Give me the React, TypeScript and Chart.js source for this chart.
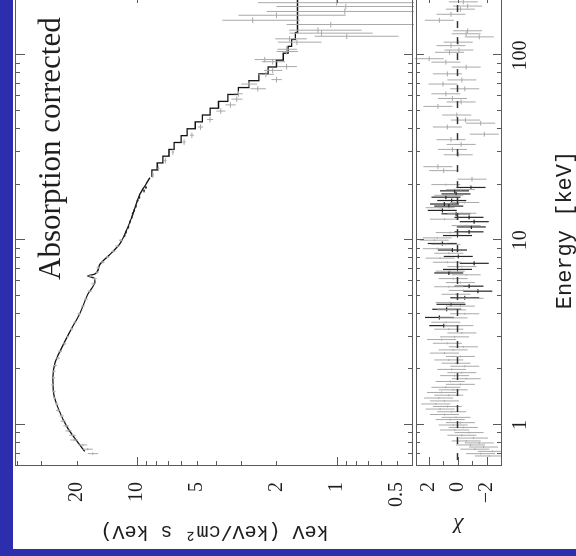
import React, { useEffect, useRef } from 'react';
import { Chart, registerables } from 'chart.js';

Chart.register(...registerables);

// ---------- axis ranges ----------
const E_MIN = 0.646;
const E_MAX = 215;
const FLUX_MIN = 0.41;
const FLUX_MAX = 40.7;
const CHI_MIN = -3;
const CHI_MAX = 3;

// ---------- ticks ----------
const energyTicks = [0.7, 0.8, 0.9, 1, 2, 3, 4, 5, 6, 7, 8, 9, 10, 20, 30, 40, 50, 60, 70, 80, 90, 100, 200];
const energyMajor = [1, 10, 100];
const energyLabelValues = [1, 10, 100];
const fluxTicks = [0.5, 0.6, 0.7, 0.8, 0.9, 1, 2, 3, 4, 5, 6, 7, 8, 9, 10, 20, 30, 40];
const fluxMajor = [1, 10];
const fluxLabelValues = [0.5, 1, 2, 5, 10, 20];
const chiTicks = [-2, -1, 0, 1, 2];
const chiMajor = [-2, 0, 2];
const chiLabelValues = [-2, 0, 2];

// ---------- model (unfolded spectrum) ----------
const modelEnergy = [0.72, 0.82, 0.98, 1.24, 1.46, 1.79, 2.16, 2.63, 3.36, 4.0, 5.1, 6.0, 6.25, 6.4, 6.55, 6.75, 7.4, 8.4, 9.5, 11.5, 13.7, 17.5, 20.5, 21.8];
const modelFlux = [18.2, 20.0, 22.4, 24.8, 26.0, 26.3, 25.7, 23.7, 21.1, 19.3, 17.6, 16.2, 16.4, 17.6, 16.3, 15.8, 15.3, 13.6, 12.2, 11.2, 10.5, 9.7, 8.9, 8.6];
const stepEnergy = [22.0, 24.0, 26.2, 28.5, 31.0, 33.8, 36.8, 40.1, 43.7, 47.6, 51.8, 56.4, 61.5, 67.0, 73.0, 79.5, 86.6, 94.3, 102.8, 112.0, 122.0, 133.0, 300];
const stepFlux = [8.4, 7.9, 7.4, 6.9, 6.5, 6.0, 5.6, 5.1, 4.7, 4.3, 3.9, 3.5, 3.1, 2.75, 2.45, 2.2, 2.0, 1.85, 1.75, 1.68, 1.61, 1.57, 1.57];

// ---------- data points, main panel ----------
const lowEnergy = [0.70, 0.74, 0.78, 0.83, 0.88, 0.93, 0.99, 1.05, 1.12, 1.20, 1.30, 1.40, 1.52, 1.65, 1.80, 1.95, 2.10, 2.30, 2.50, 2.75, 3.00, 3.30, 3.60, 4.00, 4.40, 4.80, 5.30, 5.80, 6.20, 6.40, 6.70, 7.10, 7.60, 8.10, 8.70, 9.30, 10.0];
const lowFlux = [16.6, 17.6, 18.6, 20.6, 21.0, 22.0, 22.6, 23.4, 23.8, 24.8, 25.2, 25.8, 26.0, 26.4, 26.1, 26.0, 25.6, 24.8, 24.2, 23.0, 22.2, 21.2, 20.4, 19.4, 18.6, 18.0, 17.2, 16.5, 16.3, 17.1, 15.8, 15.6, 14.8, 14.0, 13.1, 12.5, 12.0];
const lowFluxErr = [1.0, 1.0, 0.9, 0.9, 0.8, 0.8, 0.7, 0.7, 0.6, 0.6, 0.5, 0.5, 0.5, 0.5, 0.5, 0.5, 0.5, 0.5, 0.5, 0.5, 0.4, 0.4, 0.4, 0.4, 0.4, 0.4, 0.4, 0.4, 0.4, 0.4, 0.3, 0.3, 0.3, 0.3, 0.3, 0.3, 0.3];
const midEnergy = [10.6, 11.1, 11.8, 12.6, 13.3, 13.9, 14.5, 15.3, 16.4, 17.1, 18.5, 19.3];
const midFlux = [11.5, 11.3, 11.0, 10.8, 10.6, 10.5, 10.3, 10.1, 9.9, 9.7, 9.2, 9.0];
const midFluxErr = [0.1, 0.1, 0.1, 0.1, 0.1, 0.1, 0.1, 0.1, 0.1, 0.1, 0.1, 0.1];
const highEnergy = [22.5, 24.5, 27, 30, 34, 37, 41, 45, 50, 54, 58, 62, 66, 70, 74, 79, 83, 87, 92.5, 95, 105, 108, 118, 123, 127, 132, 137, 147, 155, 165, 173, 184, 193];
const highFlux = [8.3, 7.8, 7.2, 6.6, 5.8, 5.3, 4.8, 4.3, 3.8, 3.4, 3.16, 3.1, 2.48, 2.75, 2.0, 2.26, 2.09, 1.78, 2.09, 2.29, 1.78, 1.78, 1.58, 1.72, 0.89, 1.19, 1.24, 1.07, 2.63, 2.0, 0.91, 0.9, 1.0];
const highFluxErr = [0.1, 0.1, 0.1, 0.1, 0.12, 0.12, 0.15, 0.15, 0.2, 0.2, 0.2, 0.15, 0.22, 0.25, 0.12, 0.2, 0.22, 0.2, 0.28, 0.28, 0.22, 0.2, 0.39, 0.31, 0.4, 0.53, 0.49, 0.71, 1.1, 1.1, 1.33, 1.1, 1.48];

// ---------- residuals (chi) ----------
const resLowEnergy = [0.68, 0.70, 0.72, 0.74, 0.76, 0.78, 0.80, 0.82, 0.85, 0.88, 0.91, 0.94, 0.97, 1.00, 1.03, 1.07, 1.10, 1.14, 1.18, 1.22, 1.26, 1.30, 1.35, 1.40, 1.45, 1.50, 1.55, 1.60, 1.66, 1.72, 1.78, 1.85, 1.92, 2.00, 2.08, 2.16, 2.25, 2.35, 2.45, 2.55, 2.65, 2.77, 2.90, 3.00, 3.15, 3.30, 3.45, 3.60, 3.80, 4.00, 4.20, 4.40, 4.60, 4.85, 5.10, 5.35, 5.60, 5.90, 6.20, 6.50, 6.80, 7.20, 7.60, 8.00, 8.50, 9.00, 9.50, 10.0, 10.3, 11.0, 12.0, 13.0, 14.0, 15.0, 16.0, 17.5, 18.8, 20.0];
const resLowChi = [-2.2, -1.6, -2.4, -1.2, -1.8, -0.9, -1.5, -0.6, -1.1, -0.3, -0.8, 0.2, -0.4, 0.3, -0.2, 0.5, 0.1, 0.9, 0.4, 1.2, 0.7, 1.5, 0.9, 1.3, 0.6, 1.1, 0.3, 0.8, -0.2, 0.5, -0.6, 0.2, -0.3, 0.4, -0.5, 0.1, 0.6, -0.2, 0.9, 0.3, -0.4, 0.7, 1.1, 0.2, -0.3, 0.6, -0.1, 0.8, 0.3, -0.5, 0.4, -0.2, 0.5, -0.8, 0.1, -0.4, 0.6, -0.2, 0.3, -0.6, 0.5, -0.3, 0.7, 1.2, 0.6, 1.4, 0.8, 1.6, 1.4, 0.5, -0.6, 0.9, -0.3, 1.2, -0.5, 0.6, -0.2, 0.8];
const resHighEnergy = [21.4, 23.8, 25, 29, 31, 33, 35, 37.5, 41, 43, 44.7, 47.6, 53, 56, 58.5, 62, 66, 70, 73.7, 79.5, 86.5, 92, 96, 104, 107, 113, 118, 126, 131, 136, 155, 167, 178, 185, 195];
const resHighChi = [-1.0, 0.95, 1.35, -0.05, 0.35, -0.25, 0.45, -1.85, 0.7, -1.6, -0.55, 0.05, 1.35, -0.25, 0.35, 0.8, -0.5, 1.0, -0.3, 0.7, -0.6, 0.8, 1.95, 0.55, -0.1, 0.45, -0.05, -1.5, -0.6, -0.7, 1.25, 0.45, -0.2, -0.7, -0.4];
const resDarkEnergy = [3.45, 3.82, 4.23, 4.5, 4.88, 5.3, 5.64, 6.65, 6.95, 7.5, 8.17, 8.85, 9.6, 10.6, 11.1, 11.8, 12.6, 13.3, 13.9, 14.5, 15.3, 15.7, 16.4, 17.1, 17.8, 18.5, 19.3];
const resDarkChi = [0.95, 1.25, 0.75, 0.45, -0.5, -1.4, -0.8, 0.6, 0.0, -1.15, -0.05, 0.35, 1.05, 0.0, -0.8, -0.95, -1.15, -0.8, 0.1, 1.05, 0.6, 0.9, 0.4, 0.8, 0.1, 0.2, -0.93];

// ---------- styling ----------
const GRAY = '#a9a9a9';
const DARK = '#262626';
const FRAME = '#5a5a5a';
const TEXT = '#1e1e1e';
const SERIF = '"Liberation Serif", "Times New Roman", serif';
const MONO = '"Liberation Mono", "Courier New", monospace';

type Pt = { x: number; y: number | null };

function crosses(es: number[], vs: number[], errs: number[] | number, wFrac: number, lo: number, hi: number): Pt[] {
  const pts: Pt[] = [];
  es.forEach((e, i) => {
    const v = vs[i];
    const d = typeof errs === 'number' ? errs : errs[i];
    pts.push({ x: e * (1 - wFrac), y: v }, { x: e * (1 + wFrac), y: v }, { x: e, y: null });
    pts.push({ x: e, y: Math.max(v - d, lo) }, { x: e, y: Math.min(v + d, hi) }, { x: e, y: null });
  });
  return pts;
}

const framePlugin = {
  id: 'framePlugin',
  afterDatasetsDraw(chart: any) {
    const { ctx, chartArea: ca, scales } = chart;
    const xs = scales.x, ys = scales.y, rs = scales.yres;
    const mainTop = ys.top, mainBottom = ys.bottom - 2;
    const resTop = rs.top + 2, resBottom = rs.bottom;
    ctx.save();
    ctx.strokeStyle = FRAME;
    ctx.lineWidth = 1;
    const line = (x1: number, y1: number, x2: number, y2: number) => {
      ctx.beginPath();
      ctx.moveTo(x1, y1);
      ctx.lineTo(x2, y2);
      ctx.stroke();
    };
    ctx.strokeRect(Math.round(ca.left) + 0.5, Math.round(mainTop) + 0.5, ca.right - ca.left, Math.round(mainBottom - mainTop));
    ctx.strokeRect(Math.round(ca.left) + 0.5, Math.round(resTop) + 0.5, ca.right - ca.left, Math.round(resBottom - resTop));
    energyTicks.forEach((e) => {
      const px = Math.round(xs.getPixelForValue(e)) + 0.5;
      const maj = energyMajor.includes(e);
      const l1 = maj ? 10 : 5;
      const l2 = maj ? 8 : 4;
      line(px, mainTop, px, mainTop + l1);
      line(px, mainBottom, px, mainBottom - l2);
      line(px, resTop, px, resTop + l2);
      line(px, resBottom, px, resBottom - l2);
    });
    fluxTicks.forEach((f) => {
      const py = Math.round(ys.getPixelForValue(f)) + 0.5;
      const len = fluxMajor.includes(f) ? 9 : 5;
      line(ca.left, py, ca.left + len, py);
      line(ca.right, py, ca.right - len, py);
    });
    chiTicks.forEach((c) => {
      const py = Math.round(rs.getPixelForValue(c)) + 0.5;
      const len = chiMajor.includes(c) ? 9 : 5;
      line(ca.left, py, ca.left + len, py);
      line(ca.right, py, ca.right - len, py);
    });
    ctx.fillStyle = TEXT;
    ctx.font = '31px ' + SERIF;
    ctx.textBaseline = 'alphabetic';
    ctx.textAlign = 'left';
    ctx.fillText('Absorption corrected', xs.getPixelForValue(6.1), ys.top + 45);
    ctx.restore();
  },
};

const fitY = (s: any) => {
  s.width = 90;
  s.paddingTop = 0;
  s.paddingBottom = 0;
};

export default function App() {
  const ref = useRef<HTMLCanvasElement>(null);
  useEffect(() => {
    const canvas = ref.current;
    if (!canvas) return;
    const lineDs = (label: string, data: Pt[], color: string, width: number, axis: string, extra: any = {}) => ({
      label,
      data,
      xAxisID: 'x',
      yAxisID: axis,
      showLine: true,
      spanGaps: false,
      pointRadius: 0,
      borderColor: color,
      backgroundColor: color,
      borderWidth: width,
      fill: false,
      ...extra,
    });
    const chart = new Chart(canvas, {
      type: 'scatter',
      data: {
        datasets: [
          lineDs('data low', crosses(lowEnergy, lowFlux, lowFluxErr, 0.015, FLUX_MIN, FLUX_MAX), GRAY, 1, 'y'),
          lineDs('data high', crosses(highEnergy, highFlux, highFluxErr, 0.035, FLUX_MIN, FLUX_MAX), GRAY, 1, 'y'),
          lineDs('data mid', crosses(midEnergy, midFlux, midFluxErr, 0.02, FLUX_MIN, FLUX_MAX), DARK, 1, 'y'),
          lineDs('model', modelEnergy.map((e, i) => ({ x: e, y: modelFlux[i] })), '#111', 1.3, 'y', { cubicInterpolationMode: 'monotone' }),
          lineDs('model binned', stepEnergy.map((e, i) => ({ x: e, y: stepFlux[i] })), '#111', 1.3, 'y', { stepped: true }),
          lineDs('zero', [{ x: E_MIN, y: 0 }, { x: E_MAX, y: 0 }], '#333', 1.3, 'yres', { borderDash: [7, 9] }),
          lineDs('res low', crosses(resLowEnergy, resLowChi, 1, 0.012, CHI_MIN, CHI_MAX), GRAY, 1, 'yres'),
          lineDs('res high', crosses(resHighEnergy, resHighChi, 1, 0.03, CHI_MIN, CHI_MAX), GRAY, 1, 'yres'),
          lineDs('res dark', crosses(resDarkEnergy, resDarkChi, 1, 0.025, CHI_MIN, CHI_MAX), DARK, 1.2, 'yres'),
        ],
      },
      options: {
        animation: false,
        responsive: false,
        maintainAspectRatio: false,
        devicePixelRatio: 1,
        layout: { padding: { left: 0, top: 15, right: 10, bottom: 0 } },
        plugins: { legend: { display: false }, tooltip: { enabled: false } },
        scales: {
          x: {
            type: 'logarithmic',
            position: 'bottom',
            min: E_MIN,
            max: E_MAX,
            grid: { display: false, drawTicks: false },
            border: { display: false },
            afterBuildTicks: (s: any) => { s.ticks = energyTicks.map((v) => ({ value: v, major: energyMajor.includes(v) })); },
            afterFit: (s: any) => { s.height = 75; s.paddingLeft = 0; s.paddingRight = 0; },
            ticks: {
              autoSkip: false,
              maxRotation: 0,
              padding: 8,
              color: TEXT,
              font: { family: SERIF, size: 20 },
              callback: (v: any) => (energyLabelValues.includes(Number(v)) ? String(v) : ''),
            },
            title: {
              display: true,
              text: 'Energy [keV]',
              color: TEXT,
              font: { family: MONO, size: 22, lineHeight: 1 },
              padding: { top: 0, bottom: 0 },
            },
          },
          yres: {
            type: 'linear',
            axis: 'y',
            position: 'left',
            stack: 'panels',
            stackWeight: 87,
            min: CHI_MIN,
            max: CHI_MAX,
            grid: { display: false, drawTicks: false },
            border: { display: false },
            afterBuildTicks: (s: any) => { s.ticks = chiTicks.map((v) => ({ value: v })); },
            afterFit: fitY,
            ticks: {
              autoSkip: false,
              padding: 16,
              color: TEXT,
              font: { family: SERIF, size: 20 },
              callback: (v: any) => (chiLabelValues.includes(Number(v)) ? (Number(v) < 0 ? '\u2212' + Math.abs(Number(v)) : String(v)) : ''),
            },
            title: {
              display: true,
              text: '\u03c7',
              color: TEXT,
              font: { family: SERIF, size: 22, style: 'italic', lineHeight: 1 },
              padding: { top: 16, bottom: 0 },
            },
          },
          y: {
            type: 'logarithmic',
            axis: 'y',
            position: 'left',
            stack: 'panels',
            stackWeight: 399,
            min: FLUX_MIN,
            max: FLUX_MAX,
            grid: { display: false, drawTicks: false },
            border: { display: false },
            afterBuildTicks: (s: any) => { s.ticks = fluxTicks.map((v) => ({ value: v, major: fluxMajor.includes(v) })); },
            afterFit: fitY,
            ticks: {
              autoSkip: false,
              padding: 16,
              color: TEXT,
              font: { family: SERIF, size: 20 },
              callback: (v: any) => (fluxLabelValues.includes(Number(v)) ? String(v) : ''),
            },
            title: {
              display: true,
              text: 'keV (keV/cm\u00b2 s keV)',
              color: TEXT,
              font: { family: MONO, size: 20, lineHeight: 1 },
              padding: { top: 15, bottom: 0 },
            },
          },
        },
      } as any,
      plugins: [framePlugin],
    } as any);
    return () => chart.destroy();
  }, []);

  return (
    <div style={{ position: 'fixed', left: 0, top: 0, width: 576, height: 556, overflow: 'hidden', background: '#2c2eae' }}>
      <div style={{ position: 'absolute', left: 13, top: 0, width: 563, height: 549, background: '#ffffff' }} />
      <div
        style={{
          position: 'absolute',
          left: 0,
          top: 0,
          width: 572,
          height: 576,
          transformOrigin: '0 0',
          transform: 'translate(0px, 556px) rotate(-90deg)',
        }}
      >
        <canvas ref={ref} width={572} height={576} style={{ display: 'block', width: 572, height: 576 }} />
      </div>
    </div>
  );
}
